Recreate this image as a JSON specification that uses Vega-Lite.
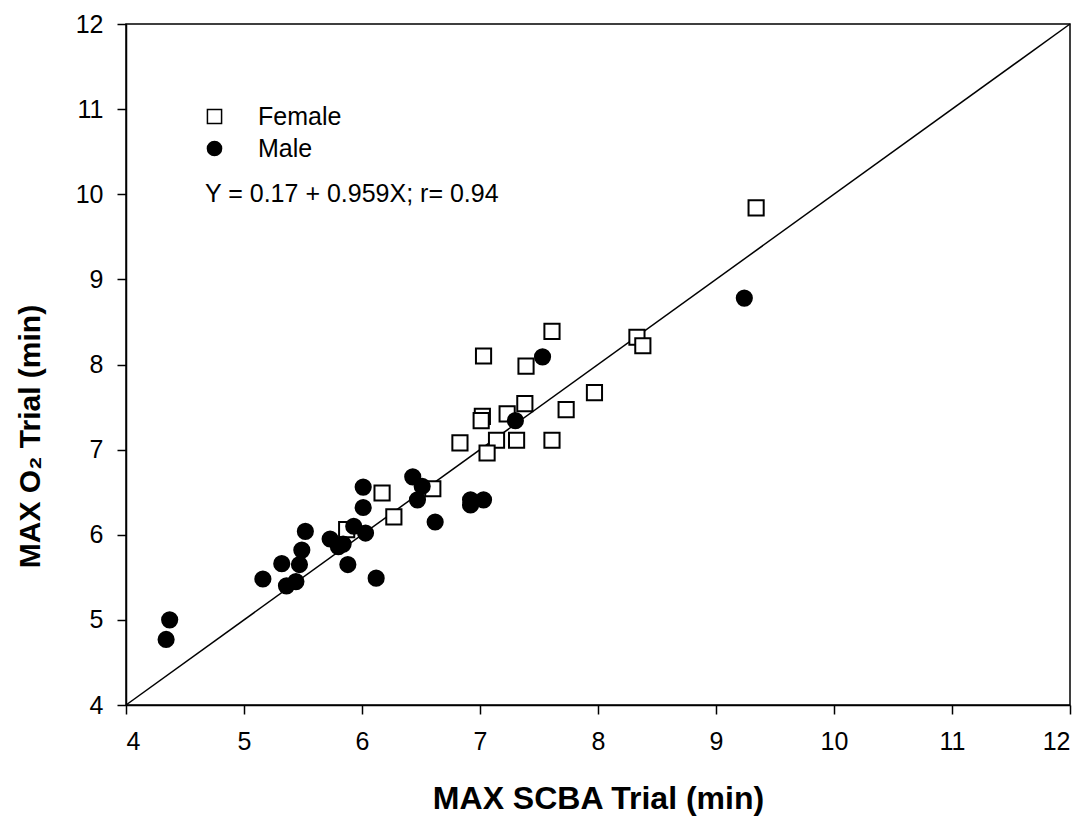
{
  "$schema": "https://vega.github.io/schema/vega-lite/v6.json",
  "width": 944,
  "height": 681,
  "autosize": {"type": "none"},
  "padding": {"left": 126, "top": 24, "right": 19, "bottom": 114},
  "background": "white",
  "config": {
    "view": {"stroke": "black", "strokeWidth": 1.5},
    "font": "Liberation Sans",
    "axis": {
      "grid": false,
      "domainColor": "black",
      "domainWidth": 1.5,
      "tickColor": "black",
      "tickWidth": 1.5,
      "tickSize": 9,
      "labelFont": "Liberation Sans",
      "labelFontSize": 25,
      "labelColor": "black",
      "labelPadding": 14,
      "titleFont": "Liberation Sans",
      "titleFontSize": 32,
      "titleFontWeight": "bold",
      "titleColor": "black"
    }
  },
  "datasets": {
    "points": [
      {"scba": 9.34, "o2": 9.84, "sex": "Female"},
      {"scba": 8.33, "o2": 8.32, "sex": "Female"},
      {"scba": 8.38, "o2": 8.22, "sex": "Female"},
      {"scba": 7.61, "o2": 8.39, "sex": "Female"},
      {"scba": 7.03, "o2": 8.10, "sex": "Female"},
      {"scba": 7.39, "o2": 7.98, "sex": "Female"},
      {"scba": 7.97, "o2": 7.67, "sex": "Female"},
      {"scba": 7.73, "o2": 7.47, "sex": "Female"},
      {"scba": 7.38, "o2": 7.54, "sex": "Female"},
      {"scba": 7.23, "o2": 7.42, "sex": "Female"},
      {"scba": 7.02, "o2": 7.39, "sex": "Female"},
      {"scba": 7.01, "o2": 7.34, "sex": "Female"},
      {"scba": 6.83, "o2": 7.08, "sex": "Female"},
      {"scba": 7.14, "o2": 7.11, "sex": "Female"},
      {"scba": 7.31, "o2": 7.11, "sex": "Female"},
      {"scba": 7.61, "o2": 7.11, "sex": "Female"},
      {"scba": 7.06, "o2": 6.96, "sex": "Female"},
      {"scba": 6.60, "o2": 6.54, "sex": "Female"},
      {"scba": 6.17, "o2": 6.49, "sex": "Female"},
      {"scba": 6.27, "o2": 6.21, "sex": "Female"},
      {"scba": 5.87, "o2": 6.06, "sex": "Female"},
      {"scba": 9.24, "o2": 8.78, "sex": "Male"},
      {"scba": 7.53, "o2": 8.09, "sex": "Male"},
      {"scba": 7.30, "o2": 7.34, "sex": "Male"},
      {"scba": 6.43, "o2": 6.68, "sex": "Male"},
      {"scba": 6.51, "o2": 6.57, "sex": "Male"},
      {"scba": 6.47, "o2": 6.41, "sex": "Male"},
      {"scba": 6.01, "o2": 6.56, "sex": "Male"},
      {"scba": 6.01, "o2": 6.32, "sex": "Male"},
      {"scba": 6.03, "o2": 6.02, "sex": "Male"},
      {"scba": 5.93, "o2": 6.10, "sex": "Male"},
      {"scba": 6.92, "o2": 6.41, "sex": "Male"},
      {"scba": 6.92, "o2": 6.35, "sex": "Male"},
      {"scba": 7.03, "o2": 6.41, "sex": "Male"},
      {"scba": 6.62, "o2": 6.15, "sex": "Male"},
      {"scba": 5.52, "o2": 6.04, "sex": "Male"},
      {"scba": 5.49, "o2": 5.82, "sex": "Male"},
      {"scba": 5.73, "o2": 5.95, "sex": "Male"},
      {"scba": 5.80, "o2": 5.86, "sex": "Male"},
      {"scba": 5.84, "o2": 5.89, "sex": "Male"},
      {"scba": 5.88, "o2": 5.65, "sex": "Male"},
      {"scba": 5.47, "o2": 5.65, "sex": "Male"},
      {"scba": 5.32, "o2": 5.66, "sex": "Male"},
      {"scba": 5.44, "o2": 5.45, "sex": "Male"},
      {"scba": 5.36, "o2": 5.40, "sex": "Male"},
      {"scba": 5.16, "o2": 5.48, "sex": "Male"},
      {"scba": 6.12, "o2": 5.49, "sex": "Male"},
      {"scba": 4.37, "o2": 5.00, "sex": "Male"},
      {"scba": 4.34, "o2": 4.77, "sex": "Male"}
    ],
    "identity": [
      {"scba": 4, "o2": 4},
      {"scba": 12, "o2": 12}
    ],
    "note": [
      {"scba": 4.67, "o2": 10.0, "label": "Y = 0.17 + 0.959X; r= 0.94"}
    ]
  },
  "encoding": {
    "x": {
      "field": "scba",
      "type": "quantitative",
      "scale": {"domain": [4, 12], "nice": false, "zero": false},
      "axis": {
        "values": [4, 5, 6, 7, 8, 9, 10, 11, 12],
        "title": "MAX SCBA Trial (min)",
        "labelPadding": 15,
        "titleY": 93,
        "titleBaseline": "middle"
      }
    },
    "y": {
      "field": "o2",
      "type": "quantitative",
      "scale": {"domain": [4, 12], "nice": false, "zero": false},
      "axis": {
        "values": [4, 5, 6, 7, 8, 9, 10, 11, 12],
        "title": "MAX O₂ Trial (min)",
        "titleFontSize": 30,
        "titleX": -96,
        "titleY": 412,
        "titleAlign": "center",
        "titleBaseline": "middle"
      }
    }
  },
  "layer": [
    {
      "data": {"name": "identity"},
      "mark": {"type": "line", "color": "black", "strokeWidth": 1.5},
      "encoding": {}
    },
    {
      "data": {"name": "points"},
      "mark": {"type": "point", "filled": true, "opacity": 1, "stroke": "black", "strokeWidth": 2, "size": 230},
      "encoding": {
        "shape": {
          "field": "sex",
          "type": "nominal",
          "scale": {"domain": ["Female", "Male"], "range": ["square", "circle"]},
          "legend": {
            "title": null,
            "orient": "none",
            "legendX": 76,
            "legendY": 80,
            "padding": 0,
            "labelFont": "Liberation Sans",
            "labelFontSize": 25,
            "labelColor": "black",
            "labelOffset": 31,
            "rowPadding": 6,
            "symbolSize": 200,
            "symbolOpacity": 1,
            "encode": {
              "symbols": {
                "update": {
                  "stroke": {"value": "black"},
                  "strokeWidth": {"value": 2},
                  "opacity": {"value": 1}
                }
              }
            }
          }
        },
        "fill": {
          "field": "sex",
          "type": "nominal",
          "scale": {"domain": ["Female", "Male"], "range": ["white", "black"]},
          "legend": {
            "title": null,
            "orient": "none",
            "legendX": 76,
            "legendY": 80,
            "padding": 0,
            "labelFont": "Liberation Sans",
            "labelFontSize": 25,
            "labelColor": "black",
            "labelOffset": 31,
            "rowPadding": 6,
            "symbolSize": 200,
            "symbolOpacity": 1,
            "encode": {
              "symbols": {
                "update": {
                  "stroke": {"value": "black"},
                  "strokeWidth": {"value": 2},
                  "opacity": {"value": 1}
                }
              }
            }
          }
        }
      }
    },
    {
      "data": {"name": "note"},
      "mark": {"type": "text", "align": "left", "baseline": "middle", "fontSize": 25, "font": "Liberation Sans", "color": "black"},
      "encoding": {
        "text": {"field": "label"}
      }
    }
  ]
}
